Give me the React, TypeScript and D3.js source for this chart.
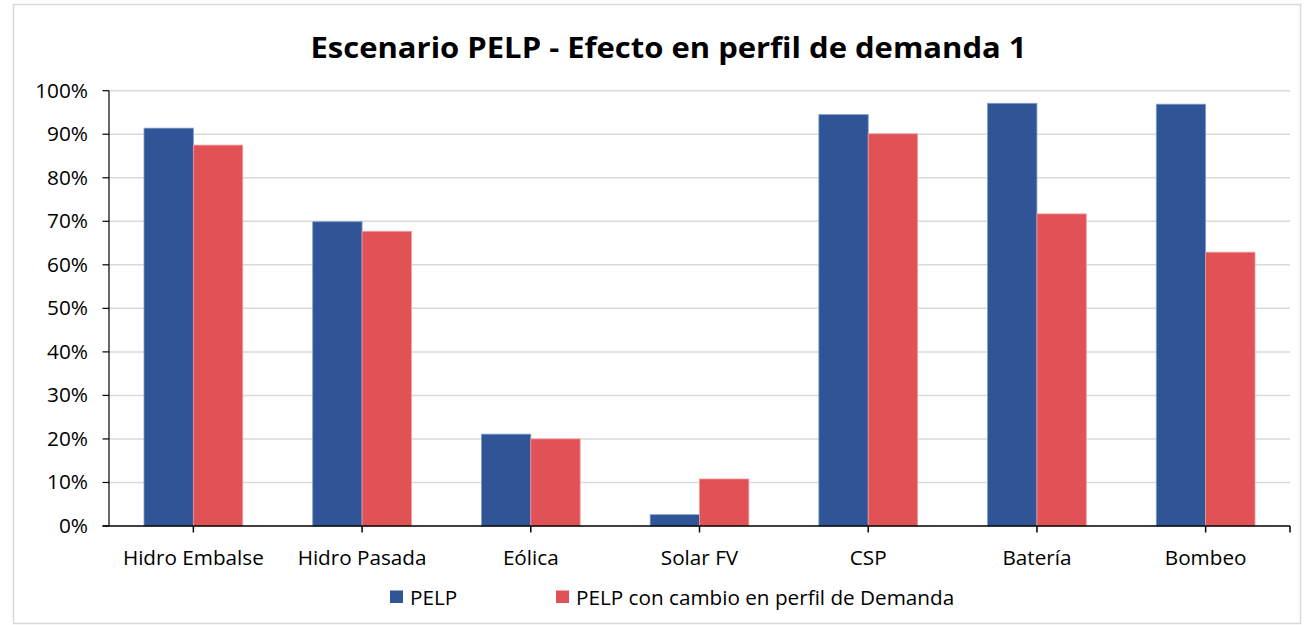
import React from "react";
import * as d3 from "d3";

const categories = ["Hidro Embalse", "Hidro Pasada", "Eólica", "Solar FV", "CSP", "Batería", "Bombeo"];
const seriesNames = ["PELP", "PELP con cambio en perfil de Demanda"];
const pelp = [0.914, 0.699, 0.211, 0.026, 0.945, 0.971, 0.969];
const pelpCambio = [0.875, 0.677, 0.2, 0.108, 0.901, 0.717, 0.629];
const yTicks = [0, 0.1, 0.2, 0.3, 0.4, 0.5, 0.6, 0.7, 0.8, 0.9, 1.0];
const title = "Escenario PELP - Efecto en perfil de demanda 1";

const colors = ["#2F5597", "#E05256"];
const strokes = ["#7F9BD0", "#F09A9C"];

const W = 1309;
const H = 625;
const left = 109;
const right = 1290;
const top = 90.7;
const bottom = 526;
const FONT = "'Open Sans', 'Noto Sans', sans-serif";

export default function App() {
  const x = d3.scaleBand<string>().domain(categories).range([left, right]).padding(0);
  const y = d3.scaleLinear().domain([0, 1]).range([bottom, top]);
  const groupW = x.bandwidth() * 0.585;
  const x1 = d3.scaleBand<string>().domain(["0", "1"]).range([0, groupW]).padding(0);
  const fmt = d3.format(".0%");
  const series = [pelp, pelpCambio];
  const tickXs = [...categories.map((c) => (x(c) as number) + x.bandwidth() / 2), right];

  return (
    <svg width={W} height={H} style={{ position: "absolute", left: 0, top: 0 }}>
      <rect x={0} y={0} width={W} height={H} fill="#fff" />
      <rect x={13.5} y={4.5} width={1287} height={619} fill="none" stroke="#D9D9D9" strokeWidth={1.5} />
      <text
        x={668.5}
        y={57.5}
        textAnchor="middle"
        fontFamily={FONT}
        fontWeight={700}
        fontSize={29}
        fill="#000"
        textLength={716}
        lengthAdjust="spacingAndGlyphs"
      >
        {title}
      </text>
      {yTicks.map((t) => (
        <g key={t}>
          {t > 0 && (
            <line x1={left} x2={right} y1={y(t)} y2={y(t)} stroke="#D9D9D9" strokeWidth={1.5} />
          )}
          <line x1={left - 6.5} x2={left} y1={y(t)} y2={y(t)} stroke="#000" strokeWidth={1.2} />
          <text x={88} y={y(t) + 7} textAnchor="end" fontFamily={FONT} fontSize={20.8} fill="#000">
            {fmt(t)}
          </text>
        </g>
      ))}
      {categories.map((c, i) => {
        const gx = (x(c) as number) + (x.bandwidth() - groupW) / 2;
        return (
          <g key={c}>
            {series.map((s, si) => (
              <rect
                key={si}
                x={gx + (x1(String(si)) as number)}
                y={y(s[i])}
                width={x1.bandwidth()}
                height={bottom - y(s[i])}
                fill={colors[si]}
                stroke={strokes[si]}
                strokeWidth={0.8}
              />
            ))}
            <text
              x={(x(c) as number) + x.bandwidth() / 2}
              y={564.5}
              textAnchor="middle"
              fontFamily={FONT}
              fontSize={20.7}
              fill="#000"
            >
              {c}
            </text>
          </g>
        );
      })}
      <line x1={left} x2={left} y1={top} y2={bottom} stroke="#000" strokeWidth={1.2} />
      <line x1={left - 6.5} x2={right} y1={bottom} y2={bottom} stroke="#000" strokeWidth={1.5} />
      {tickXs.map((tx, i) => (
        <line key={i} x1={tx} x2={tx} y1={bottom} y2={bottom + 6.5} stroke="#000" strokeWidth={1.5} />
      ))}
      <g>
        <rect x={390} y={590.5} width={13} height={12.5} fill={colors[0]} />
        <text x={410} y={605} fontFamily={FONT} fontSize={20.7} fill="#000">
          {seriesNames[0]}
        </text>
        <rect x={556} y={590.5} width={13} height={12.5} fill={colors[1]} />
        <text x={576} y={605} fontFamily={FONT} fontSize={20.7} fill="#000">
          {seriesNames[1]}
        </text>
      </g>
    </svg>
  );
}
